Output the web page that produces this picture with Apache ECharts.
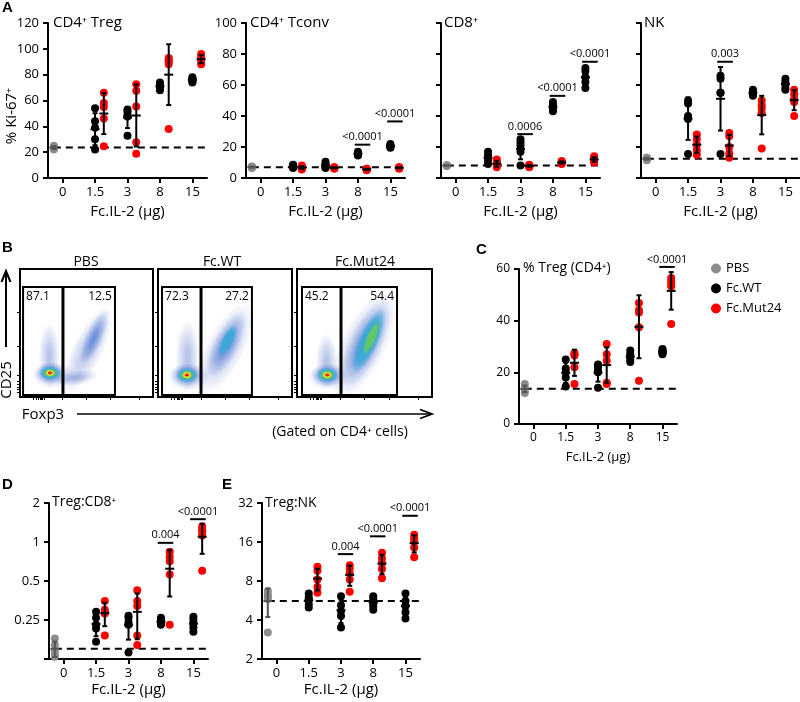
<!DOCTYPE html>
<html><head><meta charset="utf-8">
<script src="https://cdn.jsdelivr.net/npm/echarts@6/dist/echarts.min.js"></script>
<style>html,body{margin:0;padding:0;background:#fff}#c{width:800px;height:702px}</style>
</head><body><div id="c"></div>
<script>
// ---------------- DATA ----------------
const doseLabels = ['0', '1.5', '3', '8', '15'];
const groupNames = ['PBS', 'Fc.WT', 'Fc.Mut24'];

// A: % Ki-67+  (WT / Mut24 arrays are per dose 1.5, 3, 8, 15)
const tregPBS = [22, 23, 24, 25, 24];
const tregWT  = [[54, 44, 39, 30, 22], [53, 51.5, 49, 47.6, 32.7], [74, 72, 70, 68, 71], [78, 77, 76, 75, 74]];
const tregMut = [[66, 58, 55, 46, 24.5], [72.6, 67.5, 55.4, 27.6, 18.8], [93, 91, 88, 38, 90], [96, 94, 92, 88, 90]];

const tconvPBS = [7, 7.2, 6.5, 7.5, 6.8];
const tconvWT  = [[8.5, 8, 7, 6.5, 7.2], [10.5, 9, 8, 7, 6.5], [17, 16, 15, 14.5, 16], [22, 21, 20, 19.5, 21]];
const tconvMut = [[8, 7, 6, 5.5, 7], [7, 6.5, 6, 7, 6.5], [6, 5.5, 5, 6, 5.5], [7, 6.5, 6, 7, 6.5]];

const cd8PBS = [8, 8.2, 7.8, 8.1, 7.9];
const cd8WT  = [[17, 15, 13, 11, 9], [25, 23, 21, 17, 8], [49, 47, 46, 45, 43], [71, 69, 65, 62, 58]];
const cd8Mut = [[12, 10, 9, 8, 7], [8.5, 8, 7.5, 8, 7], [11, 10.5, 10, 9, 9.5], [14, 13, 12, 11, 10]];

const nkPBS = [12, 13, 12.5, 11.5, 13];
const nkWT  = [[50, 48, 40, 38, 15.5], [66, 64, 55, 55, 15.5], [57, 56, 55, 54, 53], [64, 62, 61, 58, 57]];
const nkMut = [[28, 25, 21.5, 18, 15], [29, 27, 20, 16, 13], [50, 47, 45, 42, 19], [57, 54, 51, 49, 40]];

// C: % Treg (CD4+)
const pctPBS = [15.5, 14, 13, 12, 13.5];
const pctWT  = [[25, 21.5, 20, 18, 14.5], [23, 22, 20.5, 20, 14], [28.5, 27, 26, 25, 24], [29, 28.5, 28, 27.5, 27]];
const pctMut = [[27.5, 26.5, 22, 15.5, 27], [31, 27, 24.5, 15.5, 16], [46.8, 44, 43.2, 37.5, 16.7], [56.5, 55.2, 53.9, 53.3, 38.7]];

// D: Treg:CD8+
const rCd8PBS = [0.18, 0.16, 0.145, 0.135, 0.13];
const rCd8WT  = [[0.29, 0.26, 0.23, 0.215, 0.17], [0.27, 0.26, 0.24, 0.23, 0.14], [0.26, 0.25, 0.24, 0.235, 0.23], [0.265, 0.25, 0.235, 0.22, 0.203]];
const rCd8Mut = [[0.35, 0.3, 0.28, 0.19, 0.29], [0.425, 0.35, 0.32, 0.19, 0.16], [0.84, 0.77, 0.71, 0.56, 0.23], [1.32, 1.25, 1.2, 1.12, 0.6]];

// E: Treg:NK
const rNkPBS = [6.7, 6.3, 6.0, 5.8, 3.2];
const rNkWT  = [[6.4, 6.0, 5.7, 5.3, 5.0], [6.1, 5.2, 4.7, 4.3, 3.5], [6.1, 5.8, 5.4, 5.1, 4.8], [6.4, 5.6, 5.1, 4.6, 4.1]];
const rNkMut = [[10.3, 9.6, 8.2, 7.2, 6.5], [10.6, 10, 9.2, 8.2, 6.6], [13.2, 12, 11, 9.9, 8.4], [18.2, 17.2, 16.2, 14.5, 12.2]];

// significance: [dose index, bar value, p]
const sigTconv = [[3, 21.5, '<0.0001'], [4, 36.5, '<0.0001']];
const sigCd8   = [[2, 28.3, '0.0006'], [3, 53, '<0.0001'], [4, 75, '<0.0001']];
const sigNk    = [[2, 75, '0.003']];
const sigPct   = [[4, 60.8, '<0.0001']];
const sigRCd8  = [[3, 0.985, '0.004'], [4, 1.5, '<0.0001']];
const sigRNk   = [[2, 12.9, '0.004'], [3, 17.7, '<0.0001'], [4, 25.5, '<0.0001']];

// B: flow plots (Foxp3 / CD25 axis units 0-100)
const flowNames = ['PBS', 'Fc.WT', 'Fc.Mut24'];
const gateLeftPct  = ['87.1', '72.3', '45.2'];
const gateRightPct = ['12.5', '27.2', '54.4'];
const gateX = [[2.3, 32.3, 71.4], [3.0, 32.1, 70.1], [3.7, 32.6, 74.1]];
const gateY = [1.6, 86];
const foxp3Ticks = [10, 12, 14, 15, 16, 17, 18, 32, 50, 68, 90];
const cd25Ticks = [4, 6, 8, 10, 12, 17, 40, 66];
// clouds: [foxp3, cd25, spreadX, spreadY, angle, density level]
const pbsClouds = [
  [22, 32, 8, 26, 0, 0], [25, 17, 16, 10, 0, 0], [42, 15, 17, 6, 8, 0],
  [51, 37, 36, 12, 64, 0], [56, 47, 22, 7, 66, 1],
  [22.6, 18.8, 12, 8.5, 0, 1], [22.6, 18.8, 8.5, 5.8, 0, 2], [22.6, 18.8, 5.6, 3.8, 0, 3],
  [22.6, 18.8, 3.6, 2.6, 0, 4], [22.6, 18.8, 2, 1.5, 0, 5]
];
const wtClouds = [
  [22, 32, 9, 28, 0, 0], [23, 16, 16, 11, 0, 0],
  [50, 38, 38, 15, 63, 0], [51, 41, 27, 10, 63, 1], [52, 44, 13, 5, 63, 2],
  [21.6, 17.2, 12, 9, 0, 1], [21.6, 17.2, 8.5, 6.2, 0, 2], [21.6, 17.2, 5.6, 4.2, 0, 3],
  [21.6, 17.2, 3.6, 2.8, 0, 4], [21.6, 17.2, 2, 1.5, 0, 5]
];
const mutClouds = [
  [22, 28, 8, 22, 0, 0], [23, 16, 15, 10, 0, 0],
  [49, 40, 44, 18, 64, 0], [51, 42, 36, 13, 65, 1], [53, 44, 26, 8, 66, 2], [55, 46, 14, 4, 67, 3],
  [22.4, 17.2, 12, 9, 0, 1], [22.4, 17.2, 8.5, 6.2, 0, 2], [22.4, 17.2, 5.6, 4.2, 0, 3],
  [22.4, 17.2, 3.6, 2.8, 0, 4], [22.4, 17.2, 2, 1.5, 0, 5]
];

// ---------------- BUILD ----------------
const FONT = 'Open Sans';
const OFF = 0.27;
const XMIN = -0.45, XMAX = 4.45;
const mean = a => a.reduce((s, v) => s + v, 0) / a.length;
const sd = a => { const m = mean(a); return Math.sqrt(a.reduce((s, v) => s + (v - m) * (v - m), 0) / (a.length - 1)); };

const panels = [
  {pbs: tregPBS, wt: tregWT, mut: tregMut, sig: [], grid: {left: 48, top: 23, width: 159, height: 155}, y: {min: 0, max: 120, interval: 20}, yLab: true, tick: 13, nm: 15, gap: 26},
  {pbs: tconvPBS, wt: tconvWT, mut: tconvMut, sig: sigTconv, grid: {left: 246, top: 23, width: 159, height: 155}, y: {min: 0, max: 100, interval: 20}, yLab: true, tick: 13, nm: 15, gap: 26},
  {pbs: cd8PBS, wt: cd8WT, mut: cd8Mut, sig: sigCd8, grid: {left: 441, top: 23, width: 159, height: 155}, y: {min: 0, max: 100, interval: 20}, yLab: false, tick: 13, nm: 15, gap: 26},
  {pbs: nkPBS, wt: nkWT, mut: nkMut, sig: sigNk, grid: {left: 641, top: 23, width: 159, height: 155}, y: {min: 0, max: 100, interval: 20}, yLab: false, tick: 13, nm: 15, gap: 26},
  {pbs: pctPBS, wt: pctWT, mut: pctMut, sig: sigPct, grid: {left: 519, top: 269, width: 158, height: 155}, y: {min: 0, max: 60, interval: 20}, yLab: true, tick: 12, nm: 13, gap: 27},
  {pbs: rCd8PBS, wt: rCd8WT, mut: rCd8Mut, sig: sigRCd8, grid: {left: 49, top: 503, width: 159, height: 156}, y: {type: 'log', logBase: 2, min: 0.125, max: 2}, yLab: true, tick: 13, nm: 15, gap: 23, hideMin: true},
  {pbs: rNkPBS, wt: rNkWT, mut: rNkMut, sig: sigRNk, grid: {left: 262, top: 503, width: 158, height: 156}, y: {type: 'log', logBase: 2, min: 2, max: 32}, yLab: true, tick: 13, nm: 15, gap: 23}
];

const grids = [], xAxes = [], yAxes = [], series = [];
const axisLine = {show: true, onZero: false, lineStyle: {color: '#000', width: 2}};
const axisTick = {show: true, length: 5, lineStyle: {color: '#000', width: 2}};

panels.forEach((p, g) => {
  grids.push(p.grid);
  xAxes.push({
    type: 'value', gridIndex: g, min: XMIN, max: XMAX,
    axisLine, axisTick: Object.assign({customValues: [0, 1, 2, 3, 4]}, axisTick),
    axisLabel: {customValues: [0, 1, 2, 3, 4], formatter: v => doseLabels[Math.round(v)], fontSize: p.tick, color: '#000', margin: 8, fontFamily: FONT},
    splitLine: {show: false},
    name: 'Fc.IL-2 (μg)', nameLocation: 'middle', nameGap: p.gap,
    nameTextStyle: {fontSize: p.nm, color: '#000', fontFamily: FONT}
  });
  const ya = Object.assign({type: 'value', gridIndex: g, axisLine, axisTick, splitLine: {show: false},
    axisLabel: {show: p.yLab, fontSize: p.tick, color: '#000', margin: 9, fontFamily: FONT,
      formatter: v => (p.hideMin && Math.abs(v - p.y.min) < 1e-9) ? '' : String(+(+v).toFixed(3))}}, p.y);
  yAxes.push(ya);

  const base = {xAxisIndex: g, yAxisIndex: g};
  const pm = mean(p.pbs);
  series.push(Object.assign({type: 'line', data: [[-OFF, pm], [XMAX, pm]], symbol: 'none', silent: true, z: 2,
    lineStyle: {color: '#000', width: 2, type: [7, 5]}}, base));
  series.push(Object.assign({type: 'scatter', name: 'PBS', data: p.pbs.map(v => [-OFF, v]), symbolSize: 8, itemStyle: {color: '#8c8c8c', opacity: 1}, z: 3}, base));
  series.push(Object.assign({type: 'scatter', name: 'Fc.WT', data: p.wt.flatMap((a, i) => a.map(v => [i + 1, v])), symbolSize: 8, itemStyle: {color: '#000', opacity: 1}, z: 3}, base));
  series.push(Object.assign({type: 'scatter', name: 'Fc.Mut24', data: p.mut.flatMap((a, i) => a.map(v => [i + 1 + OFF, v])), symbolSize: 8, itemStyle: {color: '#ff0000', opacity: 1}, z: 3}, base));

  const eb = [[-OFF, mean(p.pbs), sd(p.pbs), 0]]
    .concat(p.wt.map((a, i) => [i + 1, mean(a), sd(a), 1]))
    .concat(p.mut.map((a, i) => [i + 1 + OFF, mean(a), sd(a), 1]));
  series.push(Object.assign({type: 'custom', data: eb, z: 5, silent: true, clip: false,
    renderItem: (params, api) => {
      const x = api.value(0), m = api.value(1), s = api.value(2);
      const col = api.value(3) === 0 ? '#555' : '#000';
      const lo = Math.max(m - s, 1e-6);
      const a = api.coord([x, m + s]), b = api.coord([x, lo]), c = api.coord([x, m]);
      const st = {stroke: col, lineWidth: 2};
      return {type: 'group', children: [
        {type: 'line', shape: {x1: a[0], y1: a[1], x2: b[0], y2: b[1]}, style: st},
        {type: 'line', shape: {x1: a[0] - 2.5, y1: a[1], x2: a[0] + 2.5, y2: a[1]}, style: st},
        {type: 'line', shape: {x1: b[0] - 2.5, y1: b[1], x2: b[0] + 2.5, y2: b[1]}, style: st},
        {type: 'line', shape: {x1: c[0] - 4.5, y1: c[1], x2: c[0] + 4.5, y2: c[1]}, style: st}
      ]};
    }}, base));

  if (p.sig.length) {
    series.push(Object.assign({type: 'custom', data: p.sig.map(s => [s[0], s[1]]), z: 5, silent: true, clip: false,
      renderItem: (params, api) => {
        const s = p.sig[params.dataIndex];
        const a = api.coord([s[0] - 0.1, s[1]]), b = api.coord([s[0] + 0.38, s[1]]);
        return {type: 'group', children: [
          {type: 'line', shape: {x1: a[0], y1: a[1], x2: b[0], y2: b[1]}, style: {stroke: '#000', lineWidth: 2}},
          {type: 'text', x: (a[0] + b[0]) / 2, y: a[1] - 2, style: {text: s[2], fontSize: 11, fontFamily: FONT, fill: '#000', align: 'center', verticalAlign: 'bottom'}}
        ]};
      }}, base));
  }
});

// Flow panels
const flowGrids = [{left: 20, width: 133}, {left: 158, width: 134}, {left: 297, width: 135}];
const allClouds = [pbsClouds, wtClouds, mutClouds];
const levelRGB = ['35,70,185', '40,95,205', '55,170,215', '100,200,95', '240,225,35', '235,35,25'];
const levelA = [0.32, 0.55, 0.9, 0.95, 1, 1];
const flowTick = {show: true, length: 3, lineStyle: {color: '#000', width: 1}};
flowGrids.forEach((fg, k) => {
  const g = grids.length;
  grids.push({left: fg.left, width: fg.width, top: 269, height: 128, show: true, borderColor: '#000', borderWidth: 2, backgroundColor: 'transparent'});
  xAxes.push({type: 'value', gridIndex: g, min: 0, max: 100, axisLine: {show: false, onZero: false}, axisLabel: {show: false}, splitLine: {show: false},
    axisTick: Object.assign({customValues: foxp3Ticks}, flowTick)});
  yAxes.push({type: 'value', gridIndex: g, min: 0, max: 100, axisLine: {show: false, onZero: false}, axisLabel: {show: false}, splitLine: {show: false},
    axisTick: Object.assign({customValues: cd25Ticks}, flowTick)});
  const clouds = allClouds[k];
  series.push({type: 'custom', xAxisIndex: g, yAxisIndex: g, silent: true, z: 2, clip: true,
    data: clouds.map(c => [c[0], c[1]]),
    renderItem: (params, api) => {
      const c = clouds[params.dataIndex];
      const p = api.coord([c[0], c[1]]);
      const s = api.size([c[2], c[3]]);
      const rgb = levelRGB[c[5]], a = levelA[c[5]];
      const hard = c[5] >= 2 ? 0.6 : 0.15;
      return {type: 'circle', x: p[0], y: p[1], rotation: c[4] * Math.PI / 180,
        scaleX: s[0] / 10, scaleY: s[1] / 10, shape: {cx: 0, cy: 0, r: 10},
        style: {fill: new echarts.graphic.RadialGradient(0.5, 0.5, 0.5, [
          {offset: 0, color: 'rgba(' + rgb + ',' + a + ')'},
          {offset: hard, color: 'rgba(' + rgb + ',' + a + ')'},
          {offset: 1, color: 'rgba(' + rgb + ',0)'}])}};
    }});
  series.push({type: 'custom', xAxisIndex: g, yAxisIndex: g, silent: true, z: 6, clip: false,
    data: [[gateX[k][0], gateY[0]]],
    renderItem: (params, api) => {
      const gx = gateX[k];
      const tl = api.coord([gx[0], gateY[1]]), br = api.coord([gx[2], gateY[0]]);
      const d = api.coord([gx[1], gateY[0]]);
      return {type: 'group', children: [
        {type: 'rect', shape: {x: tl[0], y: tl[1], width: br[0] - tl[0], height: br[1] - tl[1]}, style: {fill: 'none', stroke: '#000', lineWidth: 2}},
        {type: 'line', shape: {x1: d[0], y1: tl[1], x2: d[0], y2: br[1]}, style: {stroke: '#000', lineWidth: 3}},
        {type: 'text', x: tl[0] + 3, y: tl[1] + 4, style: {text: gateLeftPct[k], fontSize: 12, fontFamily: FONT, fill: '#000', align: 'left', verticalAlign: 'top'}},
        {type: 'text', x: br[0] - 3, y: tl[1] + 4, style: {text: gateRightPct[k], fontSize: 12, fontFamily: FONT, fill: '#000', align: 'right', verticalAlign: 'top'}}
      ]};
    }});
});

// ---------------- TEXT / DECOR ----------------
const T = (text, x, y, o) => Object.assign({type: 'text', x, y, silent: true,
  style: Object.assign({text, fontSize: 15, fontFamily: FONT, fill: '#000', align: 'left', verticalAlign: 'middle'}, o || {})});
const bold = {fontFamily: 'Liberation Sans', fontWeight: 'bold', fontSize: 15, verticalAlign: 'top'};
const graphics = [
  T('A', 2, 0, bold), T('B', 2, 240, bold), T('C', 476, 242, bold), T('D', 2, 477, bold), T('E', 222, 477, bold),
  T('CD4⁺ Treg', 53, 23), T('CD4⁺ Tconv', 250, 23), T('CD8⁺', 444, 23), T('NK', 644, 23),
  Object.assign(T('% Ki-67⁺', 12, 116, {align: 'center'}), {rotation: Math.PI / 2}),
  T('% Treg (CD4⁺)', 523, 268, {fontSize: 14}),
  T('Treg:CD8⁺', 52, 502, {fontSize: 14}), T('Treg:NK', 265, 503, {fontSize: 14}),
  T('PBS', 86, 262, {align: 'center', fontSize: 14}), T('Fc.WT', 222, 262, {align: 'center', fontSize: 14}), T('Fc.Mut24', 365, 262, {align: 'center', fontSize: 14}),
  Object.assign(T('CD25', 7, 380, {align: 'center'}), {rotation: Math.PI / 2}),
  T('Foxp3', 43, 415, {align: 'center'}),
  T('(Gated on CD4⁺ cells)', 340, 432, {align: 'center', fontSize: 14}),
  {type: 'line', silent: true, shape: {x1: 6, y1: 347, x2: 6, y2: 272}, style: {stroke: '#000', lineWidth: 2}},
  {type: 'polyline', silent: true, shape: {points: [[1.5, 282], [6, 271], [10.5, 282]]}, style: {stroke: '#000', lineWidth: 2, fill: 'none'}},
  {type: 'line', silent: true, shape: {x1: 77, y1: 414, x2: 431, y2: 414}, style: {stroke: '#000', lineWidth: 1.5}},
  {type: 'polyline', silent: true, shape: {points: [[420, 409.5], [432, 414], [420, 418.5]]}, style: {stroke: '#000', lineWidth: 1.8, fill: 'none'}}
];

const chart = echarts.init(document.getElementById('c'));
chart.setOption({
  animation: false,
  backgroundColor: '#fff',
  textStyle: {fontFamily: FONT},
  grid: grids, xAxis: xAxes, yAxis: yAxes, series,
  legend: {data: groupNames, orient: 'vertical', left: 706, top: 257, icon: 'circle', itemWidth: 10, itemHeight: 10, itemGap: 7,
    textStyle: {fontSize: 13, color: '#000', fontFamily: FONT}, selectedMode: false},
  graphic: graphics
});
</script></body></html>
